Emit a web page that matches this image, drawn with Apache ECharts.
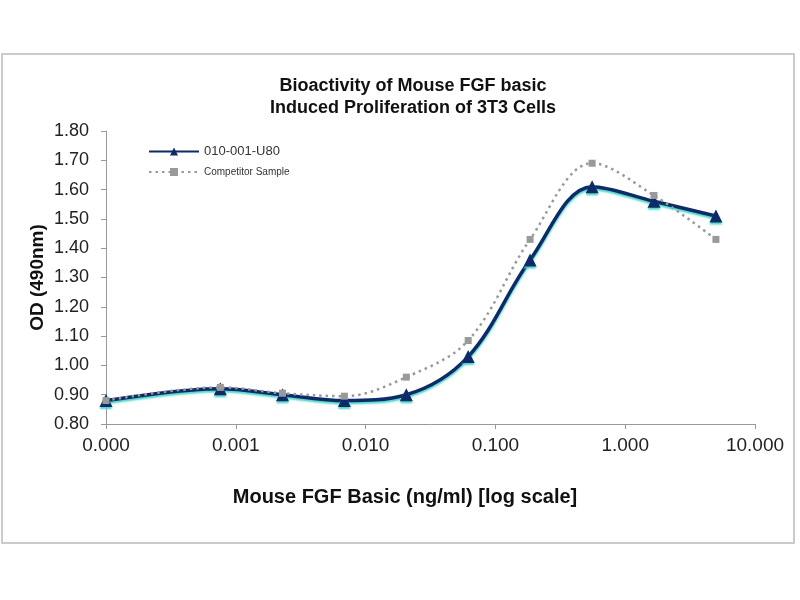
<!DOCTYPE html>
<html>
<head>
<meta charset="utf-8">
<script src="https://cdn.jsdelivr.net/npm/echarts@6/dist/echarts.min.js"></script>
<style>
  html, body { margin: 0; padding: 0; background: #fff; }
  #chart { width: 800px; height: 600px; }
</style>
</head>
<body>
<div id="chart"></div>
<script>
// concentrations (ng/ml), first point is the "0" well drawn at 0.0001
var concentrations = [0.0001, 0.00076, 0.00229, 0.00686, 0.0206, 0.0617, 0.185, 0.556, 1.667, 5.0];
var seriesOurs = [0.88, 0.92, 0.90, 0.88, 0.90, 1.03, 1.36, 1.61, 1.56, 1.51];
var seriesCompetitor = [0.88, 0.925, 0.905, 0.895, 0.96, 1.085, 1.43, 1.69, 1.58, 1.43];
var seriesNames = ['010-001-U80', 'Competitor Sample'];

function pairs(xs, ys) {
    var out = [];
    for (var i = 0; i < xs.length; i++) {
        out.push([xs[i], ys[i]]);
    }
    return out;
}

var chart = echarts.init(document.getElementById('chart'));

var option = {
    backgroundColor: '#fff',
    animation: false,
    title: {
        text: 'Bioactivity of Mouse FGF basic\nInduced Proliferation of 3T3 Cells',
        left: 408,
        top: 70,
        textAlign: 'center',
        textStyle: {
            fontFamily: 'Liberation Sans',
            fontWeight: 'bold',
            fontSize: 18,
            lineHeight: 22,
            color: '#111'
        }
    },
    graphic: [{
        type: 'rect',
        shape: { x: 2, y: 54, width: 792, height: 489 },
        style: { fill: 'none', stroke: '#bbb', lineWidth: 1.5 },
        silent: true,
        z: -1
    }],
    legend: {
        orient: 'vertical',
        left: 143,
        top: 140,
        itemWidth: 50,
        itemHeight: 10,
        itemGap: 9,
        data: [
            { name: seriesNames[0], textStyle: { fontSize: 13, fontFamily: 'Liberation Sans', color: '#333' } },
            { name: seriesNames[1], textStyle: { fontSize: 10, fontFamily: 'Liberation Sans', color: '#333' } }
        ]
    },
    grid: {
        left: 106,
        right: 45,
        top: 131,
        bottom: 176
    },
    xAxis: {
        type: 'log',
        logBase: 10,
        min: 0.0001,
        max: 10,
        name: 'Mouse FGF Basic (ng/ml) [log scale]',
        nameLocation: 'middle',
        nameGap: 63,
        nameMoveOverlap: false,
        nameTextStyle: {
            fontFamily: 'Liberation Sans',
            fontWeight: 'bold',
            fontSize: 20,
            color: '#111',
            padding: [0, 0, 0, -51]
        },
        axisLine: { lineStyle: { color: '#999', width: 1 } },
        axisTick: { show: true, length: 5, lineStyle: { color: '#999' } },
        minorTick: { show: false },
        splitLine: { show: false },
        axisLabel: {
            margin: 12,
            fontFamily: 'Liberation Sans',
            fontSize: 19,
            color: '#222',
            formatter: function (v) { return v.toFixed(3); }
        }
    },
    yAxis: {
        type: 'value',
        min: 0.8,
        max: 1.8,
        interval: 0.1,
        name: 'OD (490nm)',
        nameLocation: 'middle',
        nameGap: 59,
        nameMoveOverlap: false,
        nameTextStyle: {
            fontFamily: 'Liberation Sans',
            fontWeight: 'bold',
            fontSize: 19,
            color: '#111'
        },
        axisLine: { show: true, lineStyle: { color: '#999', width: 1 } },
        axisTick: { show: true, length: 5, lineStyle: { color: '#999' } },
        splitLine: { show: false },
        axisLabel: {
            margin: 17,
            fontFamily: 'Liberation Sans',
            fontSize: 18,
            color: '#222',
            formatter: function (v) { return v.toFixed(2); }
        }
    },
    series: [
        {
            name: seriesNames[0],
            type: 'line',
            smooth: 0.35,
            data: pairs(concentrations, seriesOurs),
            symbol: 'triangle',
            symbolSize: 13,
            lineStyle: {
                color: '#0f2a68',
                width: 3.5,
                shadowColor: '#49d6c4',
                shadowBlur: 2,
                shadowOffsetY: 2
            },
            itemStyle: {
                color: '#0f2a68',
                shadowColor: '#49d6c4',
                shadowBlur: 2,
                shadowOffsetY: 2
            },
            z: 2
        },
        {
            name: seriesNames[1],
            type: 'line',
            smooth: 0.35,
            data: pairs(concentrations, seriesCompetitor),
            symbol: 'rect',
            symbolSize: 7,
            lineStyle: {
                color: '#999',
                width: 2.5,
                type: [2.5, 4]
            },
            itemStyle: {
                color: '#9a9a9a'
            },
            z: 3
        }
    ]
};

chart.setOption(option);
</script>
</body>
</html>
